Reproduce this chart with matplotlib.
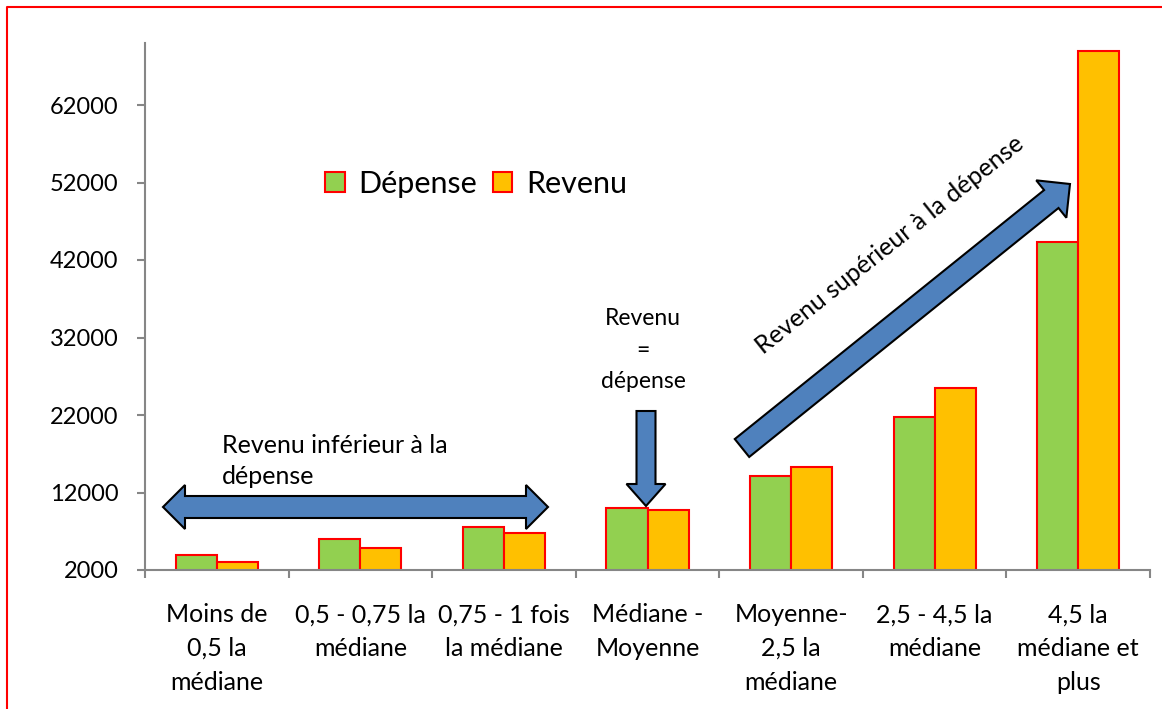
import numpy as np
import matplotlib
matplotlib.use("Agg")
import matplotlib.pyplot as plt
from matplotlib.patches import Polygon
from matplotlib.transforms import IdentityTransform
from matplotlib.lines import Line2D

categories = ["Moins de\n0,5 la\nmédiane", "0,5 - 0,75 la\nmédiane", "0,75 - 1 fois\nla médiane",
              "Médiane -\nMoyenne", "Moyenne-\n2,5 la\nmédiane", "2,5 - 4,5 la\nmédiane",
              "4,5 la\nmédiane et\nplus"]
depense = [4000, 6000, 7600, 10000, 14100, 21800, 44300]
revenu = [3000, 4900, 6800, 9800, 15300, 25500, 69000]
yticks = [2000, 12000, 22000, 32000, 42000, 52000, 62000]

plt.rcParams['font.family'] = ['Lato', 'DejaVu Sans']

W, H = 1162, 709
fig = plt.figure(figsize=(W / 100, H / 100), dpi=100)
ax = fig.add_axes([145 / W, 1 - 570 / H, 1005 / W, 527 / H])

x = np.arange(len(categories))
bw = 0.286
b1 = ax.bar(x - bw / 2, depense, bw, color="#92D050", edgecolor="#FF0000", linewidth=1.5, label="Dépense")
b2 = ax.bar(x + bw / 2, revenu, bw, color="#FFC000", edgecolor="#FF0000", linewidth=1.5, label="Revenu")

ax.set_xlim(-0.5, len(categories) - 0.5)
ax.set_ylim(2000, 70000)
ax.set_yticks(yticks)
ax.set_yticklabels([str(v) for v in yticks], fontsize=17)
ax.set_xticks(x)
ax.set_xticklabels(categories, fontsize=18, linespacing=1.56)
ax.set_xticks(np.arange(-0.5, len(categories)), minor=True)
ax.tick_params(axis='x', which='major', length=0, pad=24)
ax.tick_params(axis='x', which='minor', length=6, width=1.5, color="#868686")
ax.tick_params(axis='y', length=6, width=1.5, color="#868686", pad=13)

for s in ["top", "right"]:
    ax.spines[s].set_visible(False)
for s in ["left", "bottom"]:
    ax.spines[s].set_color("#868686")
    ax.spines[s].set_linewidth(1.5)

leg = fig.legend(handles=[b1, b2], loc="center", bbox_to_anchor=(476 / W, 1 - 184 / H),
                 ncol=2, frameon=False, fontsize=22, handlelength=0.65, handleheight=0.65,
                 handletextpad=0.45, columnspacing=0.5)


def block_arrow(p0, p1, body, head_w, head_len, both=False):
    p0 = np.array(p0, float)
    p1 = np.array(p1, float)
    u = (p1 - p0) / np.linalg.norm(p1 - p0)
    n = np.array([-u[1], u[0]])
    hb, hh = body / 2, head_w / 2
    e = p1 - u * head_len
    pts = [e + n * hb, e + n * hh, p1, e - n * hh, e - n * hb]
    if both:
        s = p0 + u * head_len
        pts += [s - n * hb, s - n * hh, p0, s + n * hh, s + n * hb]
    else:
        pts += [p0 - n * hb, p0 + n * hb]
    # image pixel coords (y down) -> display coords
    pts = [(px, H - py) for px, py in pts]
    fig.patches.append(Polygon(pts, closed=True, facecolor="#4F81BD", edgecolor="black",
                               linewidth=1.5, transform=IdentityTransform(), figure=fig))


block_arrow((163, 507), (548, 507), 22, 44, 22, both=True)
block_arrow((646, 411), (646, 506), 19, 39, 22)
block_arrow((742, 448), (1070, 184), 23, 48, 24)

fig.text(222 / W, 1 - 461 / H, "Revenu inférieur à la\ndépense", fontsize=18,
         ha="left", va="center", linespacing=1.45)
fig.text(643 / W, 1 - 350 / H, "Revenu\n=\ndépense", fontsize=16.5, ha="center", va="center",
         linespacing=1.6)
fig.text(890 / W, 1 - 245 / H, "Revenu supérieur à la dépense", fontsize=18, ha="center",
         va="center", rotation=38.5, rotation_mode="anchor")

# red frame (left and top edges visible)
fig.add_artist(Line2D([7 / W, 7 / W, 1], [0, 1 - 7 / H, 1 - 7 / H], color="#FF0000",
                      linewidth=1.5, transform=fig.transFigure))

fig.savefig("out.png", dpi=100)
